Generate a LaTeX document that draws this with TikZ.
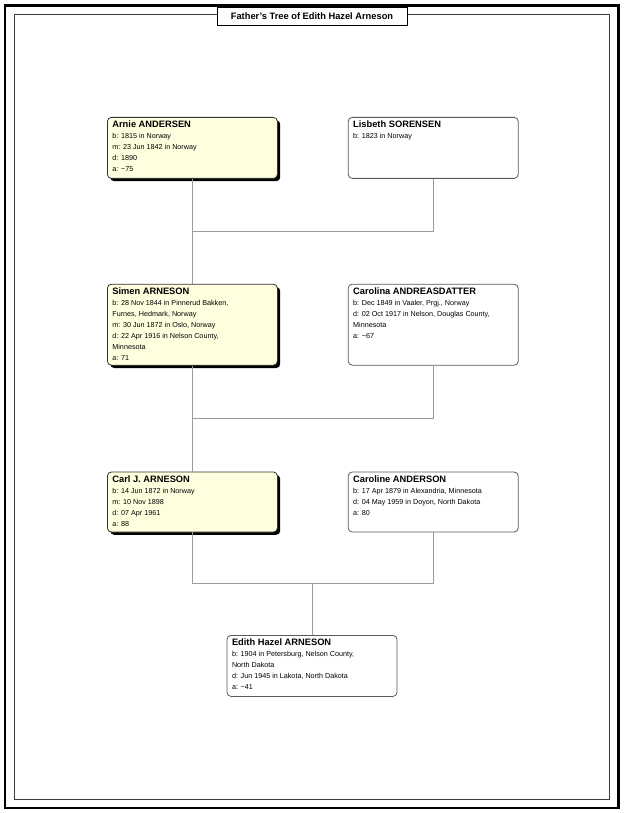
\documentclass[tikz,border=0pt]{standalone}
\usepackage{fontspec}
\setmainfont{Liberation Sans}
\usepackage{tikz}
\usetikzlibrary{positioning, shadows, calc}

\definecolor{ancfill}{RGB}{255,255,224}
\definecolor{boxline}{RGB}{90,90,90}
\definecolor{famgray}{RGB}{155,155,155}
\definecolor{framegray}{RGB}{60,60,60}

% card text: height, name, detail lines
\newcommand{\famcard}[3]{\parbox[c][#1][t]{160pt}{\raggedright
  {\fontsize{9.3}{11}\selectfont\bfseries\rule{0pt}{10.5pt}#2\par}
  \fontsize{7.2}{10.9}\selectfont #3}}

\begin{document}
\begin{tikzpicture}[
    x=1pt, y=-1pt,
    person/.style={draw=boxline, line width=0.8pt, rounded corners=4pt, fill=white,
      inner xsep=5pt, inner ysep=0pt, minimum width=170pt, align=left},
    ancestor/.style={fill=ancfill, draw=black!80,
      drop shadow={shadow xshift=2.8pt, shadow yshift=-2.8pt, fill=black, opacity=1}},
    famline/.style={draw=famgray, line width=1pt},
    titlebox/.style={draw=black, fill=white, line width=0.9pt, minimum width=190pt,
      minimum height=18pt, inner sep=0pt, font=\fontsize{9.3}{11}\selectfont\bfseries}
]
\useasboundingbox (0,0) rectangle (624,813);

% frames
\draw[line width=2.5pt] (5,5.5) rectangle (618.5,808);
\draw[draw=framegray, line width=1pt] (14.5,14.5) rectangle (609,799);
\node[titlebox] (title) at (312,16) {Father's Tree of Edith Hazel Arneson};

% generation 1
\node[person, ancestor, anchor=north west] (arnie) at (107,117)
  {\famcard{61pt}{Arnie ANDERSEN}{b: 1815 in Norway\\ m: 23 Jun 1842 in Norway\\ d: 1890\\ a: \textasciitilde75}};
\node[person, right=70pt of arnie] (lisbeth)
  {\famcard{61pt}{Lisbeth SORENSEN}{b: 1823 in Norway}};

% generation 2
\node[person, ancestor, below=105pt of arnie] (simen)
  {\famcard{81pt}{Simen ARNESON}{b: 28 Nov 1844 in Pinnerud Bakken,\\ Furnes, Hedmark, Norway\\ m: 30 Jun 1872 in Oslo, Norway\\ d: 22 Apr 1916 in Nelson County,\\ Minnesota\\ a: 71}};
\node[person, right=70pt of simen] (carolina)
  {\famcard{81pt}{Carolina ANDREASDATTER}{b: Dec 1849 in Vaaler, Prgj., Norway\\ d: 02 Oct 1917 in Nelson, Douglas County,\\ Minnesota\\ a: \textasciitilde67}};

% generation 3
\node[person, ancestor, below=106pt of simen] (carl)
  {\famcard{60pt}{Carl J. ARNESON}{b: 14 Jun 1872 in Norway\\ m: 10 Nov 1898\\ d: 07 Apr 1961\\ a: 88}};
\node[person, right=70pt of carl] (caroline)
  {\famcard{60pt}{Caroline ANDERSON}{b: 17 Apr 1879 in Alexandria, Minnesota\\ d: 04 May 1959 in Doyon, North Dakota\\ a: 80}};

% generation 4
\node[person, anchor=north] (edith) at (312,635)
  {\famcard{61pt}{Edith Hazel ARNESON}{b: 1904 in Petersburg, Nelson County,\\ North Dakota\\ d: Jun 1945 in Lakota, North Dakota\\ a: \textasciitilde41}};

% family lines
\coordinate (u1) at ($(arnie.south)!0.5!(simen.north)$);
\coordinate (u2) at ($(simen.south)!0.5!(carl.north)$);
\coordinate (u3) at ($(carl.south)!0.5!(edith.north)$);

\draw[famline] (arnie.south) -- (simen.north);
\draw[famline] (lisbeth.south) |- (u1);
\draw[famline] (simen.south) -- (carl.north);
\draw[famline] (carolina.south) |- (u2);
\draw[famline] (carl.south) |- (u3 -| caroline.south) -- (caroline.south);
\draw[famline] (edith.north) -- (edith.north |- u3);

\end{tikzpicture}
\end{document}
